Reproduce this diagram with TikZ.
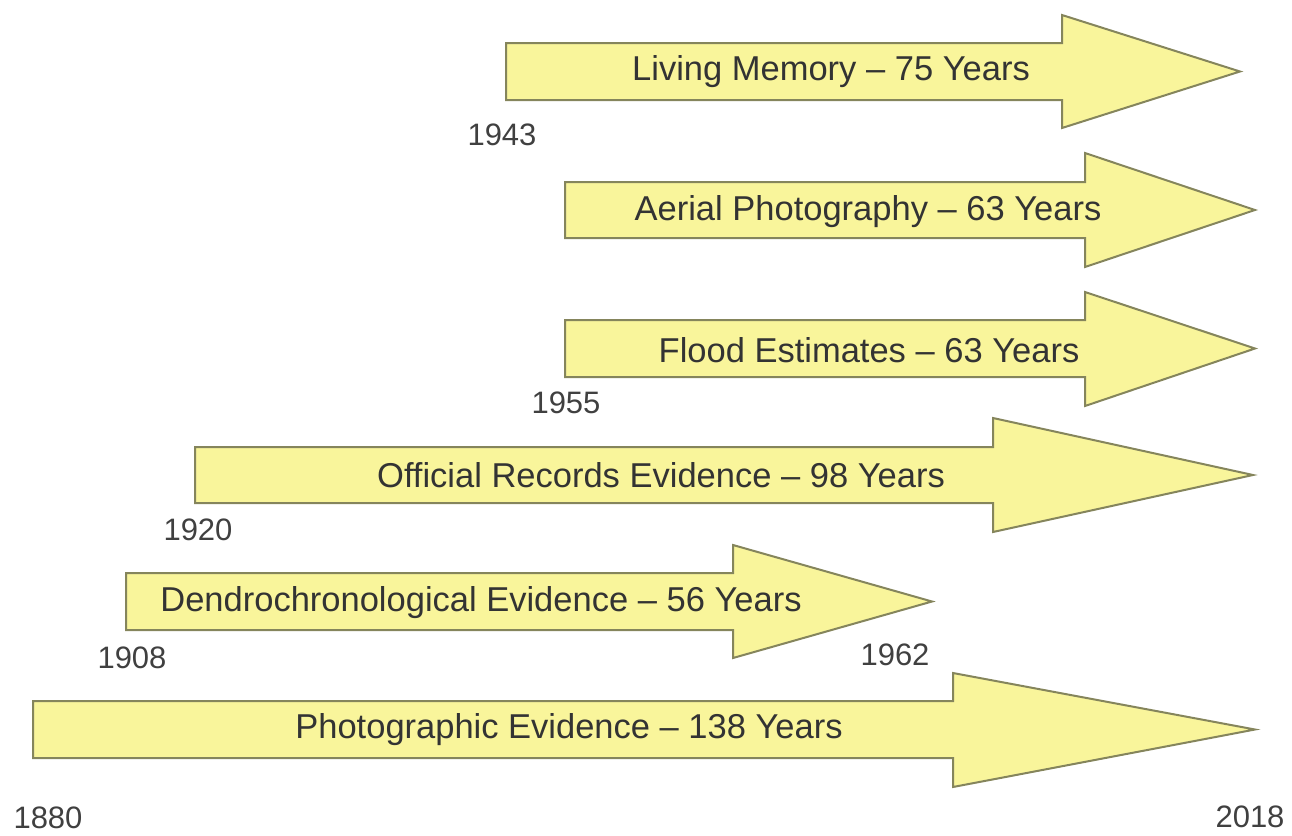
\documentclass[tikz,border=0pt]{standalone}
\usepackage{fontspec}
\setmainfont{Liberation Sans}
\definecolor{arrowfill}{HTML}{F9F59B}
\definecolor{arrowline}{HTML}{85855C}
\definecolor{labeltext}{HTML}{333333}
\definecolor{yeartext}{HTML}{404040}
\begin{document}
\begin{tikzpicture}[x=1pt,y=-1pt,
  barrow/.style={fill=arrowfill,draw=arrowline,line width=2pt,line join=miter},
  bartext/.style={text=labeltext,font=\fontsize{34.5}{36}\selectfont,inner sep=0pt,anchor=center},
  yeartag/.style={text=yeartext,font=\fontsize{31}{33}\selectfont,inner sep=0pt,anchor=center}]
\useasboundingbox (0,0) rectangle (1292,835);
% arrows
\draw[barrow] (506,43) -- (1062,43) -- (1062,15) -- (1240,71.5) -- (1062,128) -- (1062,100) -- (506,100) -- cycle;
\draw[barrow] (565,182) -- (1085,182) -- (1085,153) -- (1255,210) -- (1085,267) -- (1085,238) -- (565,238) -- cycle;
\draw[barrow] (565,320) -- (1085,320) -- (1085,292) -- (1255,348.5) -- (1085,406) -- (1085,377) -- (565,377) -- cycle;
\draw[barrow] (195,447) -- (993,447) -- (993,418) -- (1253,475) -- (993,532) -- (993,503) -- (195,503) -- cycle;
\draw[barrow] (126,573) -- (733,573) -- (733,545) -- (932,601.5) -- (733,658) -- (733,630) -- (126,630) -- cycle;
\draw[barrow] (33,701) -- (953,701) -- (953,673) -- (1255,729.5) -- (953,787) -- (953,758) -- (33,758) -- cycle;
% arrow texts
\node[bartext] (living) at (831,72) {Living Memory – 75 Years};
\node[bartext] (aerial) at (868,212) {Aerial Photography – 63 Years};
\node[bartext] (flood) at (869,350) {Flood Estimates – 63 Years};
\node[bartext] (official) at (661,475) {Official Records Evidence – 98 Years};
\node[bartext] (dendro) at (481,603) {Dendrochronological Evidence – 56 Years};
\node[bartext] (photo) at (569,730) {Photographic Evidence – 138 Years};
% years
\node[yeartag] (y1943) at (502,135) {1943};
\node[yeartag] (y1955) at (566,403) {1955};
\node[yeartag] (y1920) at (198,530) {1920};
\node[yeartag] (y1908) at (132,658) {1908};
\node[yeartag] (y1962) at (895,655) {1962};
\node[yeartag] (y1880) at (48,818) {1880};
\node[yeartag] (y2018) at (1250,817) {2018};
\end{tikzpicture}
\end{document}
